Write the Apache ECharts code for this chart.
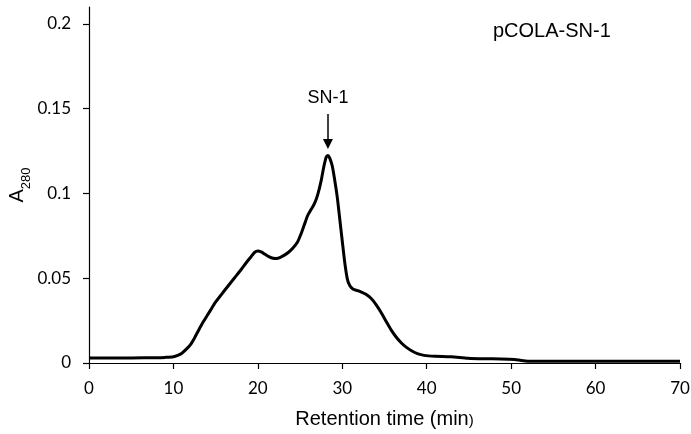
<!DOCTYPE html>
<html>
<head>
<meta charset="utf-8">
<style>
  html, body { margin: 0; padding: 0; background: #fff; }
  #chart { width: 691px; height: 434px; }
</style>
<script src="https://cdn.jsdelivr.net/npm/echarts@6/dist/echarts.min.js"></script>
</head>
<body>
<div id="chart"></div>
<script>
// Retention time (min)
const times = [0, 5, 8, 9, 10, 10.5, 11, 11.5, 12, 12.5, 13, 13.5, 14, 14.5, 15, 15.7, 16.4, 17.2,
  18, 18.6, 19.2, 19.6, 20, 20.4, 20.8, 21.3, 21.8, 22.2, 22.6, 23.1, 23.6, 24.1, 24.7, 25.1, 25.5,
  25.9, 26.3, 26.7, 27.1, 27.5, 27.8, 28.1, 28.3, 28.5, 28.8, 29.1, 29.4, 29.7, 30.0, 30.3, 30.6,
  30.9, 31.3, 31.8, 32.2, 32.8, 33.4, 34.0, 34.6, 35.2, 35.8, 36.4, 37.0, 37.6, 38.2, 38.9, 39.7,
  41, 42.9, 44.9, 46.8, 48.8, 50.4, 51.2, 52, 55, 60, 65, 70];
// A280
const absorbance = [0.003, 0.003, 0.0031, 0.0033, 0.0037, 0.0045, 0.0058, 0.008, 0.0107, 0.0148,
  0.0195, 0.024, 0.028, 0.032, 0.036, 0.0405, 0.045, 0.050, 0.055, 0.059, 0.0627, 0.0652, 0.066,
  0.0655, 0.0643, 0.0628, 0.0618, 0.0617, 0.0622, 0.0635, 0.0652, 0.0675, 0.0714, 0.076, 0.0815,
  0.087, 0.0905, 0.094, 0.0995, 0.1076, 0.1155, 0.1215, 0.1224, 0.121, 0.1165, 0.108, 0.098, 0.085,
  0.0718, 0.059, 0.0495, 0.0455, 0.0435, 0.0427, 0.042, 0.0405, 0.0382, 0.0345, 0.0298, 0.0245,
  0.0194, 0.0152, 0.0118, 0.0092, 0.0072, 0.0055, 0.0045, 0.004, 0.0037, 0.0028, 0.0025, 0.0024,
  0.0021, 0.0015, 0.0011, 0.001, 0.001, 0.001, 0.001];
const xTicks = [0, 10, 20, 30, 40, 50, 60, 70];
const yTicks = [0, 0.05, 0.1, 0.15, 0.2];
const peakLabel = 'SN-1';
const peakTime = 28.3;
const arrowFrom = 0.1469;
const arrowTo = 0.1292;
const sampleName = 'pCOLA-SN-1';

const pairs = times.map((t, i) => [t, absorbance[i]]);
const tickFont = 'Lato';
const textFont = '"Liberation Sans", Arial, sans-serif';

const chart = echarts.init(document.getElementById('chart'), null, { renderer: 'canvas' });
chart.setOption({
  animation: false,
  backgroundColor: '#fff',
  title: {
    text: sampleName,
    left: 493,
    top: 21,
    padding: 0,
    textStyle: { fontFamily: textFont, fontSize: 20, fontWeight: 'normal', color: '#000' }
  },
  grid: { left: 89, right: 11, top: 7, bottom: 71, containLabel: false, outerBoundsMode: 'none' },
  xAxis: {
    type: 'value',
    min: 0, max: 70, interval: 10,
    name: '{t|Retention time (min}{p|)}',
    nameLocation: 'middle',
    nameGap: 46,
    nameMoveOverlap: false,
    nameTextStyle: {
      rich: {
        t: { fontFamily: textFont, fontSize: 20, color: '#000' },
        p: { fontFamily: textFont, fontSize: 15, color: '#000', padding: [4, 0, 0, 0] }
      }
    },
    axisLine: { show: true, onZero: false, lineStyle: { color: '#000', width: 1.2 } },
    axisTick: { show: true, inside: false, length: 6, lineStyle: { color: '#000', width: 1.2 }, customValues: xTicks },
    axisLabel: { fontFamily: tickFont, fontSize: 17, color: '#000', margin: 17, customValues: xTicks },
    splitLine: { show: false }
  },
  yAxis: {
    type: 'value',
    min: 0, max: 0.21, interval: 0.05,
    name: '{a|A}{s|280}',
    nameLocation: 'middle',
    nameRotate: 90,
    nameGap: 56,
    nameMoveOverlap: false,
    nameTextStyle: {
      rich: {
        a: { fontFamily: textFont, fontSize: 20, color: '#000' },
        s: { fontFamily: textFont, fontSize: 13, color: '#000', padding: [18, 0, 0, 0] }
      }
    },
    axisLine: { show: true, lineStyle: { color: '#000', width: 1.2 } },
    axisTick: { show: true, inside: false, length: 6, lineStyle: { color: '#000', width: 1.2 }, customValues: yTicks },
    axisLabel: { fontFamily: tickFont, fontSize: 17, color: '#000', margin: 18, customValues: yTicks },
    splitLine: { show: false }
  },
  series: [{
    type: 'line',
    data: pairs,
    showSymbol: false,
    smooth: 0.25,
    lineStyle: { color: '#000', width: 3 },
    markLine: {
      silent: true,
      symbol: ['none', 'triangle'],
      symbolSize: [10, 10],
      lineStyle: { color: '#000', width: 1.5, type: 'solid' },
      label: {
        show: true, position: 'start', distance: 7,
        formatter: peakLabel,
        fontFamily: textFont, fontSize: 18, color: '#000'
      },
      data: [[{ coord: [peakTime, arrowFrom] }, { coord: [peakTime, arrowTo] }]]
    }
  }]
});
</script>
</body>
</html>
